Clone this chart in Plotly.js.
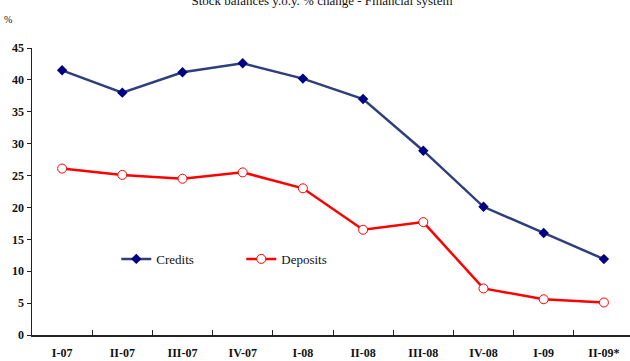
<!DOCTYPE html>
<html>
<head>
<meta charset="utf-8">
<script src="https://cdn.plot.ly/plotly-3.0.1.min.js"></script>
<style>
  html, body { margin: 0; padding: 0; overflow: hidden; background: #fff; }
  #chart { width: 634px; height: 361px; }
</style>
</head>
<body>
<div id="chart"></div>
<script>
// Quarterly periods
const quarters = ['I-07', 'II-07', 'III-07', 'IV-07', 'I-08', 'II-08', 'III-08', 'IV-08', 'I-09', 'II-09*'];

// Year-on-year % change of stock balances
const credits  = [41.5, 38.0, 41.2, 42.6, 40.2, 37.0, 28.9, 20.1, 16.0, 11.9];
const deposits = [26.1, 25.1, 24.5, 25.5, 23.0, 16.5, 17.7, 7.3, 5.6, 5.1];

const yTicks = [0, 5, 10, 15, 20, 25, 30, 35, 40, 45];

const serif = 'Liberation Serif';

const traces = [
  {
    x: quarters, y: credits, name: 'Credits',
    type: 'scatter', mode: 'lines+markers',
    line: { color: '#2e3f7c', width: 2.5 },
    marker: { symbol: 'diamond', size: 8, color: '#000080' }
  },
  {
    x: quarters, y: deposits, name: 'Deposits',
    type: 'scatter', mode: 'lines+markers',
    line: { color: '#ff0000', width: 2.5 },
    marker: { symbol: 'circle', size: 9, color: '#ffffff', line: { color: '#ff0000', width: 1 } }
  }
];

const layout = {
  width: 634, height: 361,
  margin: { l: 32, r: 0, t: 48, b: 26 },
  paper_bgcolor: '#ffffff', plot_bgcolor: '#ffffff',
  font: { family: serif, color: '#000' },
  title: {
    text: 'Stock balances y.o.y. % change - Financial system',
    font: { family: serif, size: 13, color: '#111' },
    x: 322 / 634, xanchor: 'center',
    y: 1, yref: 'container', yanchor: 'middle'
  },
  showlegend: true,
  legend: {
    orientation: 'h', x: 0.14, y: 0.265, xanchor: 'left', yanchor: 'middle',
    font: { family: serif, size: 13, color: '#111' },
    bgcolor: 'rgba(0,0,0,0)', entrywidth: 80, entrywidthmode: 'pixels'
  },
  xaxis: {
    type: 'category', range: [-0.5, 9.5],
    showgrid: false, zeroline: false,
    showline: true, linecolor: '#222', linewidth: 1.5,
    ticks: 'inside', tickson: 'boundaries', ticklen: 5, tickcolor: '#222', tickwidth: 1,
    ticklabelstandoff: 6,
    tickfont: { family: serif, size: 12, color: '#111', weight: 'bold' }
  },
  yaxis: {
    range: [0, 45], tickvals: yTicks,
    showgrid: false, zeroline: false,
    showline: true, linecolor: '#222', linewidth: 1.5,
    ticks: 'outside', ticklen: 4, tickcolor: '#222', tickwidth: 1,
    tickfont: { family: serif, size: 12, color: '#111', weight: 'bold' }
  },
  annotations: [
    {
      text: '%', xref: 'paper', yref: 'paper', x: -0.04, y: 1.1,
      xanchor: 'center', yanchor: 'middle', showarrow: false,
      font: { family: serif, size: 10, color: '#111' }
    }
  ]
};

Plotly.newPlot('chart', traces, layout, { displayModeBar: false, staticPlot: true });
</script>
</body>
</html>
